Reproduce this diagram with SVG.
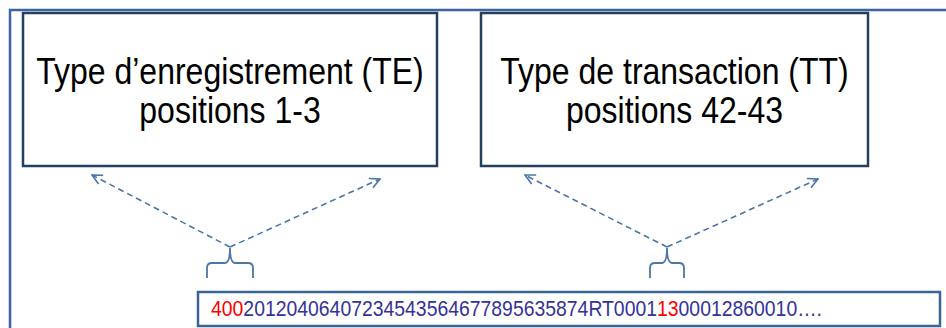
<svg xmlns="http://www.w3.org/2000/svg" width="946" height="328" viewBox="0 0 946 328">
<style>
.box{fill:#fff;stroke:#243f60;stroke-width:2.5}
.title{font-family:"Liberation Sans",Arial,sans-serif;font-size:32px;fill:#000;text-anchor:middle}
.conn{fill:none;stroke:#4a76a8;stroke-width:1.6;stroke-dasharray:6 4}
.brace{fill:none;stroke:#4a76a8;stroke-width:1.8}
.code{font-family:"Liberation Sans",Arial,sans-serif;font-size:19.4px;fill:#333399}
.red{fill:#ff0000}
</style>
<defs>
<marker id="open" viewBox="0 0 12 12" refX="11" refY="6" markerWidth="12" markerHeight="12" markerUnits="userSpaceOnUse" orient="auto">
<path d="M1,1 L11,6 L1,11" fill="none" stroke="#4a76a8" stroke-width="1.6"/>
</marker>
</defs>
<g id="frame">
<path d="M10,328 V10 H946" fill="none" stroke="#3b65a0" stroke-width="2.5"/>
</g>
<g id="te">
<rect class="box" x="23" y="13" width="414" height="153"/>
<text class="title" transform="translate(230,84) scale(1,1.13)">Type d’enregistrement (TE)</text>
<text class="title" transform="translate(230,123) scale(1,1.13)">positions 1-3</text>
</g>
<g id="tt">
<rect class="box" x="481" y="13" width="387" height="153"/>
<text class="title" transform="translate(674.5,84) scale(1,1.13)">Type de transaction (TT)</text>
<text class="title" transform="translate(674.5,123) scale(1,1.13)">positions 42-43</text>
</g>
<g id="record">
<rect x="198" y="292" width="742" height="34" fill="#fff" stroke="#3a6496" stroke-width="2.5"/>
<text class="code" transform="translate(211,316) scale(1,1.18)"><tspan class="red">400</tspan>20120406407234543564677895635874RT0001<tspan class="red">13</tspan>00012860010….</text>
</g>
<g id="connectors">
<path class="brace" d="M207,278 V268 Q207,263 212,263 H225 Q230,263 230,248 Q230,263 235,263 H248 Q253,263 253,268 V278"/>
<path class="brace" d="M650,278 V268 Q650,263 655,263 H662 Q667,263 667,248 Q667,263 672,263 H679 Q684,263 684,268 V278"/>
<line class="conn" x1="230" y1="247" x2="92" y2="175" marker-end="url(#open)"/>
<line class="conn" x1="230" y1="247" x2="380" y2="179" marker-end="url(#open)"/>
<line class="conn" x1="667" y1="247" x2="525" y2="175" marker-end="url(#open)"/>
<line class="conn" x1="667" y1="247" x2="818" y2="179" marker-end="url(#open)"/>
</g>
</svg>
